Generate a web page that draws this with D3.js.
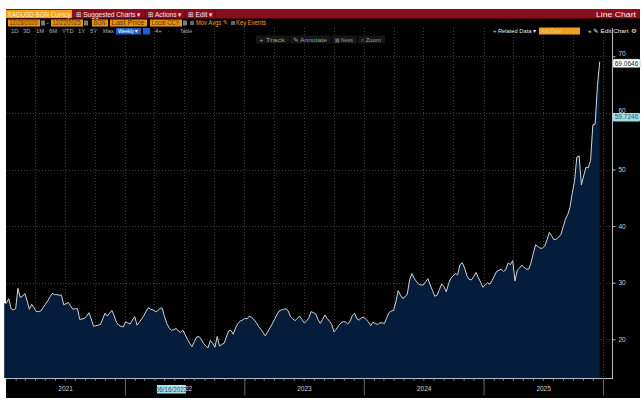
<!DOCTYPE html>
<html><head><meta charset="utf-8">
<script src="https://cdn.jsdelivr.net/npm/d3@7"></script>
<style>
html,body{margin:0;padding:0;background:#fff;}
svg{display:block;font-family:"Liberation Sans",Arial,sans-serif;}
</style></head>
<body><svg id="c" width="644" height="400"></svg>
<script>
// ---- data (weekly closes, XAGUSD) ----
const startDate = "2020-12-28";
const endDate = "2025-12-22";
const prices = [
26.4,26.4,27.2,25.4,25.2,25.4,29.0,27.4,27.6,28.1,26.8,25.3,26.2,25.6,24.9,24.9,25.0,25.6,26.2,26.8,
27.5,28.1,27.9,27.9,27.8,27.8,26.1,26.3,26.5,25.9,25.3,25.4,25.4,23.5,23.6,23.7,24.1,24.7,23.6,22.3,
22.4,22.5,22.6,23.6,24.6,24.1,24.6,25.1,24.2,23.0,22.5,22.3,22.2,23.1,22.9,22.7,23.4,24.0,22.5,23.0,
23.6,24.2,25.0,25.6,25.3,25.2,24.9,25.0,25.5,25.5,24.0,22.8,22.0,21.6,21.7,21.9,21.5,21.2,21.6,20.8,
20.0,19.3,18.7,19.6,20.4,20.5,20.0,19.3,18.8,18.5,19.8,19.3,18.6,20.5,18.8,19.1,19.3,20.4,21.5,21.6,
20.9,22.0,22.8,23.2,23.4,23.7,23.6,24.1,23.9,23.5,23.0,22.3,21.8,21.2,20.6,21.3,22.0,22.7,23.5,24.3,
25.0,25.2,25.3,25.4,25.0,24.0,23.6,23.3,23.7,24.1,23.5,22.9,23.2,23.8,24.9,24.7,24.5,23.5,22.8,23.5,
24.3,23.7,23.2,22.6,21.3,21.8,22.4,22.9,23.1,23.1,22.7,23.2,24.2,24.6,23.6,23.4,23.8,23.9,23.5,23.1,
22.4,23.0,22.8,22.6,22.9,22.9,22.8,23.8,24.7,25.0,25.1,26.6,28.6,27.8,27.2,27.5,28.0,30.5,31.6,30.8,
30.2,29.7,29.6,29.6,30.2,30.7,29.6,28.6,27.6,27.8,28.8,29.8,29.3,28.4,29.8,30.8,31.2,31.6,31.4,33.2,
33.5,32.6,31.2,30.6,30.5,31.1,31.8,30.9,30.1,29.2,29.6,30.0,29.7,30.4,31.2,32.0,32.2,32.4,32.0,32.3,
33.5,33.2,33.9,30.3,32.2,32.6,33.1,32.7,32.4,32.4,33.5,35.2,36.7,36.4,36.1,36.1,36.5,37.6,38.9,38.3,
37.6,37.7,38.0,38.5,39.8,41.2,42.0,43.3,45.8,47.9,52.2,52.4,47.3,48.9,50.4,50.3,51.6,57.9,58.0,64.8,
69.0646
];
const yTicks = [20, 30, 40, 50, 60, 70];
const yearLabels = ["2021", "2022", "2023", "2024", "2025"];
const lastLabel = "69.0646";
const cursorValue = 59.7246;
const cursorDateLabel = "06/16/2022";

// ---- layout ----
const svg = d3.select("#c");
const left = 5.5, right = 612, plotBottom = 378;

const parse = d3.utcParse("%Y-%m-%d");
const t0 = parse(startDate);
const data = prices.map((v, i) => ({ date: d3.utcDay.offset(t0, 7 * i), value: v }));

const x = d3.scaleUtc().domain([Date.UTC(2021,0,1), Date.UTC(2026,0,1)]).range([left, 603]);
const y = d3.scaleLinear().domain([20, 70]).range([339.3, 56.3]);

// panel backgrounds
svg.append("rect").attr("x",6).attr("y",9).attr("width",634).attr("height",389).attr("fill","#000");
svg.append("rect").attr("x",6).attr("y",9).attr("width",634).attr("height",9.5).attr("fill","#8b0d1d");

// gridlines
const grid = svg.append("g");
const quarters = d3.utcMonth.every(3).range(Date.UTC(2021,3,1), Date.UTC(2026,0,2));
grid.selectAll("line.v").data(quarters).join("line")
  .attr("x1", d => Math.round(x(d)) + 0.5).attr("x2", d => Math.round(x(d)) + 0.5)
  .attr("y1", 28).attr("y2", plotBottom)
  .attr("stroke", "#3c3c3c").attr("stroke-width", 1).attr("stroke-dasharray", "1,2");
grid.selectAll("line.h").data(yTicks).join("line")
  .attr("x1", 6).attr("x2", right)
  .attr("y1", d => Math.round(y(d)) + 0.5).attr("y2", d => Math.round(y(d)) + 0.5)
  .attr("stroke", "#3c3c3c").attr("stroke-width", 1).attr("stroke-dasharray", "1,2");

// area + line
const area = d3.area().x(d => x(d.date)).y0(plotBottom).y1(d => y(d.value));
const line = d3.line().x(d => x(d.date)).y(d => y(d.value));
svg.append("path").datum(data).attr("d", area).attr("fill", "#061c3b");
svg.append("path").datum(data).attr("d", line).attr("fill", "none")
  .attr("stroke", "#d4d4d4").attr("stroke-width", 1);

// axes frame
svg.append("line").attr("x1", right + 0.5).attr("x2", right + 0.5).attr("y1", 28).attr("y2", plotBottom)
  .attr("stroke", "#bdbdbd").attr("stroke-width", 1);
svg.append("line").attr("x1", 6).attr("x2", right + 1).attr("y1", plotBottom + 0.5).attr("y2", plotBottom + 0.5)
  .attr("stroke", "#bdbdbd").attr("stroke-width", 1);

// right y axis
const yAxis = svg.append("g").attr("transform", `translate(${right + 0.5},0)`)
  .call(d3.axisRight(y).tickValues(yTicks).tickSize(3).tickPadding(3));
yAxis.select(".domain").remove();
yAxis.selectAll("line").attr("stroke", "#bdbdbd");
yAxis.selectAll("text").attr("fill", "#cfcfcf").style("font-size", "6.5px")
  .attr("dy", d => (d === 70 || d === 60) ? "-0.05em" : "0.32em");

// bottom axis: monthly minor ticks
const months = d3.utcMonth.range(Date.UTC(2021,0,1), Date.UTC(2026,0,2));
const xMinor = svg.append("g").attr("transform", `translate(0,${plotBottom + 0.5})`)
  .call(d3.axisBottom(x).tickValues(months).tickSize(2).tickFormat(""));
xMinor.select(".domain").remove();
xMinor.selectAll("line").attr("stroke", "#9a9a9a");

// year separators
const years = d3.utcYear.range(Date.UTC(2022,0,1), Date.UTC(2026,0,2));
const xMajor = svg.append("g").attr("transform", `translate(0,${plotBottom + 0.5})`)
  .call(d3.axisBottom(x).tickValues(years).tickSize(17).tickFormat(""));
xMajor.select(".domain").remove();
xMajor.selectAll("line").attr("stroke", "#6a6a6a");

// year labels at mid-year
const mids = yearLabels.map(s => Date.UTC(+s, 6, 2));
const xLab = svg.append("g").attr("transform", `translate(0,${plotBottom + 0.5})`)
  .call(d3.axisBottom(x).tickValues(mids).tickSize(0).tickPadding(8)
    .tickFormat((d, i) => yearLabels[i]));
xLab.select(".domain").remove();
xLab.selectAll("text").attr("fill", "#cfcfcf").style("font-size", "6.5px");

// cursor date label on x axis
const cdx = x(Date.UTC(2022, 0, 1)) + 47;
svg.append("rect").attr("x", cdx - 15).attr("y", 385).attr("width", 29).attr("height", 8.5).attr("fill", "#a9e3ea");
svg.append("text").attr("x", cdx - 0.5).attr("y", 391.5).attr("text-anchor", "middle")
  .attr("fill", "#2a4a60").style("font-size", "6.3px").text(cursorDateLabel);

// value labels on right
function valueTag(v, txt, bg, fg, border, dy) {
  const yy = y(v) + dy;
  const g = svg.append("g");
  g.append("rect").attr("x", 613).attr("y", yy - 4).attr("width", 27).attr("height", 8.5)
    .attr("fill", bg).attr("rx", 1).attr("stroke", border || "none").attr("stroke-width", 0.5);
  g.append("text").attr("x", 626.5).attr("y", yy + 2.5).attr("text-anchor", "middle")
    .attr("fill", fg).style("font-size", "6.5px").text(txt);
}
valueTag(prices[prices.length - 1], lastLabel, "#ffffff", "#222", "#888", 1.5);
valueTag(cursorValue, String(cursorValue), "#9fdde4", "#2b5b6b", null, 2.5);

// ---- header chrome ----
const hdr = svg.append("g");
function txt(xx, yy, w, t, fill, size) {
  const e = hdr.append("text").attr("x", xx).attr("y", yy).attr("fill", fill)
    .style("font-size", (size || 7) + "px").text(t);
  if (w) e.attr("textLength", w).attr("lengthAdjust", "spacingAndGlyphs");
  return e;
}
// red bar
hdr.append("rect").attr("x", 6).attr("y", 10).attr("width", 66).attr("height", 8).attr("fill", "#f3a21c");
txt(7.5, 16.5, 63, "XAGUSD BGN Curncy", "#fff1c8", 7);
txt(76, 16.7, 65, "⊞ Suggested Charts ▾", "#f7e8ea", 7.2);
txt(148, 16.7, 34, "⊞ Actions ▾", "#f7e8ea", 7.2);
txt(188, 16.7, 25, "⊞ Edit ▾", "#f7e8ea", 7.2);
[145, 185, 215].forEach(xx => hdr.append("line").attr("x1", xx).attr("x2", xx).attr("y1", 10).attr("y2", 18).attr("stroke", "#5a0812"));
txt(596, 16.7, 40, "Line Chart", "#f7e8ea", 7.2);

// row 2: inputs
const orangeBoxes = [[8, 32, "12/28/2020"], [51, 32, "12/22/2025"], [92, 16, "BGN"], [110, 37, "Last Price"], [150, 32, "Local CCY"]];
orangeBoxes.forEach(([xx, w, t]) => {
  hdr.append("rect").attr("x", xx).attr("y", 19.5).attr("width", w).attr("height", 7).attr("fill", "#e8940e");
  txt(xx + 1.5, 25.3, w - 4, t, "#5e3300", 6.5);
});
[41, 84, 183].forEach(xx => hdr.append("rect").attr("x", xx).attr("y", 20.5).attr("width", 4).attr("height", 5).attr("fill", "#7a7a7a"));
txt(46.5, 25.3, null, "-", "#ddd", 6.5);
hdr.append("rect").attr("x", 190).attr("y", 21).attr("width", 4).attr("height", 4).attr("fill", "#666");
txt(196, 25.4, 32, "Mov Avgs ✎", "#f0a020", 6.8);
hdr.append("rect").attr("x", 231).attr("y", 21).attr("width", 4).attr("height", 4).attr("fill", "#666");
txt(236, 25.4, 30, "Key Events", "#f0a020", 6.8);

// row 3: ranges
const ranges = [[11, "1D"], [23, "3D"], [36, "1M"], [49, "6M"], [62, "YTD"], [78, "1Y"], [90, "5Y"], [103, "Max"]];
ranges.forEach(([xx, t]) => txt(xx, 33.3, null, t, "#b0b0b0", 5.8));
hdr.append("rect").attr("x", 116).attr("y", 28).attr("width", 25).attr("height", 6.5).attr("fill", "#1f5fc4");
txt(118, 33.3, 20, "Weekly ▾", "#fff", 5.8);
hdr.append("rect").attr("x", 143).attr("y", 28).attr("width", 7).attr("height", 6.5).attr("fill", "#1f5fc4");
txt(155, 33.3, null, "4+", "#b0b0b0", 5.8);
txt(168, 33.3, null, "·", "#b0b0b0", 5.8);
txt(180, 33.3, 12, "Table", "#b0b0b0", 5.8);
// right of row 3
txt(493, 33.3, 43, "+ Related Data ▾", "#e6e6e6", 5.8);
hdr.append("rect").attr("x", 539).attr("y", 27.5).attr("width", 41).attr("height", 7).attr("fill", "#f0a020");
txt(541, 33.3, 20, "Add Data", "#f8cc70", 5.8);
txt(588, 33.3, 48, "«  ✎ Edit Chart  ⚙", "#e6e6e6", 5.8);

// row 4: toolbar buttons
const tools = [[256, 33, "+ Track"], [290, 41, "✎ Annotate"], [332, 25, "▤ News"], [358, 27, "⌕ Zoom"]];
tools.forEach(([xx, w, t]) => {
  hdr.append("rect").attr("x", xx).attr("y", 35.5).attr("width", w).attr("height", 8).attr("fill", "#161616");
  txt(xx + 3, 41.8, w - 7, t, "#9a9a9a", 6);
});
</script></body></html>
